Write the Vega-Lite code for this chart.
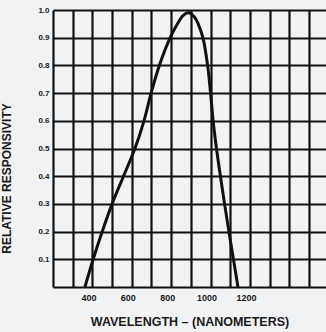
{
  "$schema": "https://vega.github.io/schema/vega-lite/v6.json",
  "autosize": {"type": "none"},
  "padding": {"left": 53, "top": 10, "right": 0, "bottom": 45},
  "width": 273,
  "height": 277,
  "background": "#f1f2f4",
  "config": {
    "view": {"stroke": null},
    "font": "Liberation Sans"
  },
  "data": {
    "values": [
      {"wavelength": 362, "response": 0.0},
      {"wavelength": 404, "response": 0.1},
      {"wavelength": 450, "response": 0.2},
      {"wavelength": 500, "response": 0.3},
      {"wavelength": 558, "response": 0.4},
      {"wavelength": 616, "response": 0.5},
      {"wavelength": 662, "response": 0.6},
      {"wavelength": 698, "response": 0.7},
      {"wavelength": 740, "response": 0.8},
      {"wavelength": 795, "response": 0.9},
      {"wavelength": 832, "response": 0.95},
      {"wavelength": 860, "response": 0.98},
      {"wavelength": 887, "response": 0.99},
      {"wavelength": 918, "response": 0.975},
      {"wavelength": 937, "response": 0.95},
      {"wavelength": 961, "response": 0.9},
      {"wavelength": 985, "response": 0.8},
      {"wavelength": 1000, "response": 0.7},
      {"wavelength": 1013, "response": 0.6},
      {"wavelength": 1030, "response": 0.5},
      {"wavelength": 1050, "response": 0.4},
      {"wavelength": 1071, "response": 0.3},
      {"wavelength": 1093, "response": 0.2},
      {"wavelength": 1116, "response": 0.1},
      {"wavelength": 1139, "response": 0.0}
    ]
  },
  "mark": {"type": "line", "color": "#111111", "strokeWidth": 3, "interpolate": "catmull-rom"},
  "encoding": {
    "x": {
      "field": "wavelength",
      "type": "quantitative",
      "scale": {"domain": [200, 1586], "nice": false, "zero": false},
      "axis": {
        "values": [200, 300, 400, 500, 600, 700, 800, 900, 1000, 1100, 1200, 1300, 1400, 1500],
        "labelExpr": "datum.value >= 400 && datum.value <= 1200 && datum.value % 200 == 0 ? datum.label : ''",
        "format": "d",
        "grid": true,
        "gridColor": "#111111",
        "gridWidth": 2.2,
        "gridOpacity": 1,
        "domain": false,
        "ticks": false,
        "labelOffset": -4,
        "labelPadding": 6,
        "labelFont": "Liberation Sans",
        "labelFontSize": 9,
        "labelFontWeight": "bold",
        "labelColor": "#1a1a1a",
        "title": "WAVELENGTH – (NANOMETERS)",
        "titleFont": "Liberation Sans",
        "titleFontSize": 12.5,
        "titleFontWeight": "bold",
        "titleColor": "#1a1a1a",
        "titlePadding": 13
      }
    },
    "y": {
      "field": "response",
      "type": "quantitative",
      "scale": {"domain": [0, 1], "nice": false},
      "axis": {
        "values": [0, 0.1, 0.2, 0.3, 0.4, 0.5, 0.6, 0.7, 0.8, 0.9, 1.0],
        "format": ".1f",
        "labelExpr": "datum.value == 0 ? '' : datum.label",
        "grid": true,
        "gridColor": "#111111",
        "gridWidth": 2.2,
        "gridOpacity": 1,
        "domain": false,
        "ticks": false,
        "labelPadding": 4,
        "labelFont": "Liberation Sans",
        "labelFontSize": 8,
        "labelFontWeight": "bold",
        "labelColor": "#1a1a1a",
        "title": "RELATIVE RESPONSIVITY",
        "titleFont": "Liberation Sans",
        "titleFontSize": 12,
        "titleFontWeight": "bold",
        "titleColor": "#1a1a1a",
        "titleY": 168,
        "titleX": -40
      }
    }
  }
}
